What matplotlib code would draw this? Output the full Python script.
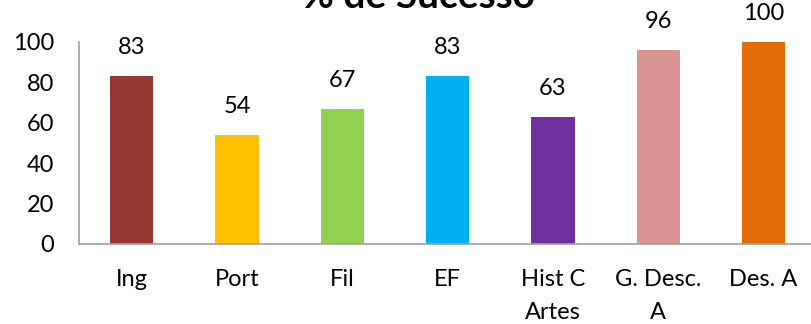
import matplotlib.pyplot as plt

# dados do gráfico
disciplinas = ['Ing', 'Port', 'Fil', 'EF', 'Hist C\nArtes', 'G. Desc.\nA', 'Des. A']
sucesso = [83, 54, 67, 83, 63, 96, 100]
cores = ['#953735', '#FFC000', '#92D050', '#00B0F0', '#7030A0', '#D99594', '#E46C0A']

plt.rcParams['font.family'] = ['Lato', 'DejaVu Sans']

fig = plt.figure(figsize=(8.12, 3.24), dpi=100)
ax = fig.add_axes([79 / 812, 1 - 244 / 324, 1 - 79 / 812, 202 / 324])

x = range(len(disciplinas))
barras = ax.bar(x, sucesso, width=0.41, color=cores)

# valor em cima de cada barra
for i, v in enumerate(sucesso):
    ax.annotate(f'{v}', (i, v), xytext=(0, 13), textcoords='offset points',
                ha='center', va='bottom', fontsize=17, annotation_clip=False)

ax.set_xlim(-0.5, 6.46)
ax.set_ylim(0, 100)
ax.set_yticks([0, 20, 40, 60, 80, 100])
ax.set_xticks(list(x))
ax.set_xticklabels(disciplinas, linespacing=1.7, va='top')
ax.tick_params(axis='both', length=0, labelsize=17)
ax.tick_params(axis='y', pad=18)
ax.tick_params(axis='x', pad=18)

for lado in ['top', 'right']:
    ax.spines[lado].set_visible(False)
for lado in ['left', 'bottom']:
    ax.spines[lado].set_color('#A0A0A0')
    ax.spines[lado].set_linewidth(1.2)

fig.text(418 / 812, 1 - 8 / 324, '% de Sucesso', ha='center', va='baseline',
         fontsize=28, fontweight='bold')

plt.savefig('out.png', dpi=100)
